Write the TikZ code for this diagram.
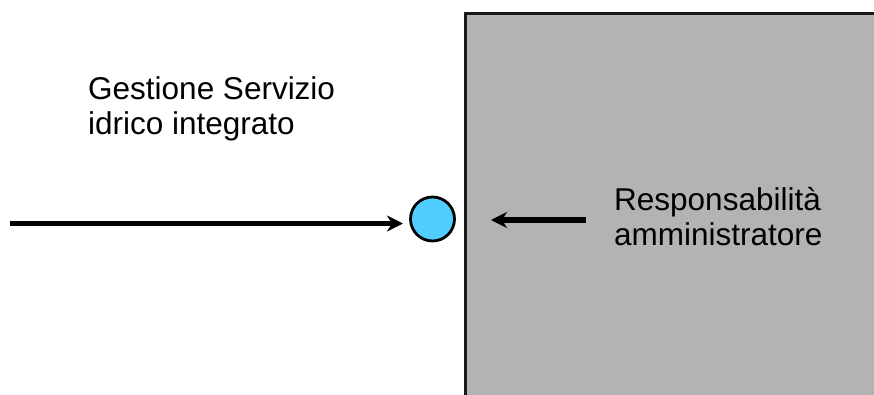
\documentclass[tikz,border=0pt]{standalone}
\usepackage{fontspec}
\setmainfont{Liberation Sans}
\usetikzlibrary{arrows.meta}
\definecolor{boxgray}{RGB}{179,179,179}
\definecolor{dotblue}{RGB}{80,206,255}
\tikzset{
  lbl/.style={anchor=base west, inner sep=0pt, align=left, font=\fontsize{31.5}{35}\selectfont},
  arr/.style={line width=5.5pt, -{Stealth[length=16pt,width=16pt,inset=5pt]}},
  panel/.style={draw=black!90, line width=3pt, fill=boxgray},
  dot/.style={circle, draw=black, line width=2.8pt, fill=dotblue, minimum size=44pt, inner sep=0pt}
}
\begin{document}
\begin{tikzpicture}[x=1pt,y=-1pt]
\useasboundingbox (0,0) rectangle (874,394);
\clip (0,0) rectangle (874,394);
\fill[white] (0,0) rectangle (874,394);
\draw[panel] (465,13) rectangle (900,420);
\node[dot] (circ) at (432.5,219) {};
\node[lbl] (t1) at (88,134) {Gestione Servizio\\idrico integrato};
\node[lbl] (t2) at (614,245) {Responsabilità\\amministratore};
\coordinate (ls) at (10,223.5);
\coordinate (le) at (403,223.5);
\draw[arr] (ls) -- (le);
\coordinate (rs) at (586,220);
\coordinate (re) at (491,220);
\draw[arr] (rs) -- (re);
\end{tikzpicture}
\end{document}
